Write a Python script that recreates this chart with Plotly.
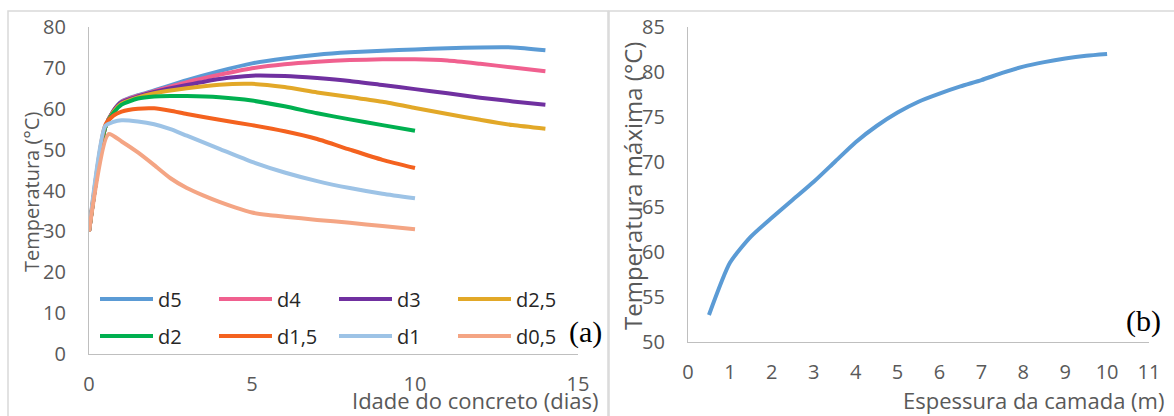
import plotly.graph_objects as go

# ---------------- data: panel (a) ----------------
names = ["d5", "d4", "d3", "d2,5", "d2", "d1,5", "d1", "d0,5"]
colors = ["#5B9BD5", "#F0608F", "#7030A0", "#E2A828", "#00B050", "#F4621F", "#9DC3E6", "#F4A584"]

t_long = [0, 0.5, 0.75, 1, 1.5, 2, 3, 4, 5, 6, 7, 8, 9, 10, 11, 12, 13, 14]
t_short = [0, 0.5, 0.75, 1, 1.5, 2, 2.5, 3, 4, 5, 6, 7, 8, 9, 10]
t_d05 = [0, 0.6, 1, 1.5, 2, 2.5, 3, 3.5, 4, 4.5, 5, 5.5, 6, 7, 8, 9, 10]

d5 = [30, 55.5, 59.5, 61.8, 63.3, 64.5, 67.0, 69.2, 71.1, 72.3, 73.2, 73.8, 74.2, 74.5, 74.8, 75.0, 75.0, 74.3]
d4 = [30, 55.5, 59.5, 61.7, 63.2, 64.3, 66.5, 68.3, 69.9, 70.9, 71.5, 71.9, 72.1, 72.1, 71.8, 71.0, 70.1, 69.2]
d3 = [30, 55.5, 59.5, 61.6, 63.0, 64.1, 65.8, 67.3, 68.1, 68.0, 67.5, 66.8, 65.8, 64.8, 63.8, 62.7, 61.8, 61.0]
d25 = [30, 55.5, 59.3, 61.3, 62.8, 63.8, 65.0, 65.9, 66.1, 65.3, 64.0, 62.9, 61.7, 60.2, 58.7, 57.3, 56.0, 55.1]
d2 = [30, 55.5, 59.0, 61.0, 62.5, 63.0, 63.1, 63.1, 62.8, 62.0, 60.6, 58.9, 57.4, 56.0, 54.6]
d15 = [30, 56.0, 58.3, 59.3, 60.0, 60.1, 59.5, 58.7, 57.3, 56.0, 54.5, 52.6, 50.0, 47.5, 45.5]
d1 = [30, 55.8, 56.8, 57.2, 56.9, 56.2, 55.0, 53.4, 50.2, 47.0, 44.4, 42.3, 40.6, 39.2, 38.1]
d05 = [30, 53.8, 52.0, 49.3, 46.2, 43.0, 40.6, 38.8, 37.2, 35.8, 34.6, 34.0, 33.6, 32.8, 32.1, 31.3, 30.5]

series_t = [t_long, t_long, t_long, t_long, t_short, t_short, t_short, t_d05]
series_v = [d5, d4, d3, d25, d2, d15, d1, d05]

# ---------------- data: panel (b) ----------------
espessura = [0.5, 1, 1.5, 2, 2.5, 3, 3.5, 4, 4.5, 5, 5.5, 6, 6.5, 7, 7.5, 8, 8.5, 9, 9.5, 10]
temp_max = [53.0, 58.8, 61.7, 63.8, 65.8, 67.8, 70.0, 72.2, 74.0, 75.5, 76.7, 77.6, 78.4, 79.1, 79.9, 80.6, 81.1, 81.5, 81.8, 82.0]

xticks_a = [0, 5, 10, 15]
yticks_a = [0, 10, 20, 30, 40, 50, 60, 70, 80]
xticks_b = list(range(0, 12))
yticks_b = [50, 55, 60, 65, 70, 75, 80, 85]

W, H = 1174, 416
def px(x):
    return x / W
def py(y):
    return 1 - y / H

FONT = "Open Sans"
GRAY = "#595959"
AXC = "#BFBFBF"

fig = go.Figure()
for nm, c, tt, vv in zip(names, colors, series_t, series_v):
    fig.add_trace(go.Scatter(x=tt, y=vv, name=nm, mode="lines",
                             line=dict(color=c, width=4, shape="spline", smoothing=0.6),
                             xaxis="x", yaxis="y", showlegend=False))
fig.add_trace(go.Scatter(x=espessura, y=temp_max, mode="lines",
                         line=dict(color="#5B9BD5", width=4, shape="spline", smoothing=0.6),
                         xaxis="x2", yaxis="y2", showlegend=False))

ax_common = dict(showgrid=False, zeroline=False, showline=True, linecolor=AXC, linewidth=1.2,
                 ticks="", automargin=False,
                 tickfont=dict(family=FONT, size=20, color=GRAY), fixedrange=True)

fig.update_layout(
    width=W, height=H, margin=dict(l=0, r=0, t=0, b=0, autoexpand=False),
    paper_bgcolor="white", plot_bgcolor="white",
    showlegend=False,
    xaxis=dict(domain=[px(89), px(578)], range=[0, 15], tickvals=xticks_a,
               anchor="y", ticklabelstandoff=12, **ax_common),
    yaxis=dict(domain=[py(354), py(27)], range=[0, 80], tickvals=yticks_a,
               anchor="x", ticklabelstandoff=18, **ax_common),
    xaxis2=dict(domain=[px(688), px(1149)], range=[0, 11], tickvals=xticks_b,
                anchor="y2", ticklabelstandoff=12, **ax_common),
    yaxis2=dict(domain=[py(342), py(27)], range=[50, 85], tickvals=yticks_b,
                anchor="x2", ticklabelstandoff=18, **ax_common),
)

shapes = []
annotations = []
# panel borders
shapes.append(dict(type="rect", xref="paper", yref="paper", x0=px(8), x1=px(608), y0=py(440), y1=py(11),
                   line=dict(color="#D9D9D9", width=1.5), layer="below"))
shapes.append(dict(type="rect", xref="paper", yref="paper", x0=px(609), x1=px(1200), y0=py(440), y1=py(11),
                   line=dict(color="#D9D9D9", width=1.5), layer="below"))

# custom legend (2 rows x 4 columns)
col_x = [100, 219, 339, 458]
row_y = [299, 336]
for i, (nm, c) in enumerate(zip(names, colors)):
    r, k = divmod(i, 4)
    x0 = col_x[k]
    y0 = row_y[r]
    shapes.append(dict(type="line", xref="paper", yref="paper", x0=px(x0), x1=px(x0 + 53),
                       y0=py(y0), y1=py(y0), line=dict(color=c, width=4)))
    annotations.append(dict(text=nm, xref="paper", yref="paper", x=px(x0 + 56), y=py(y0),
                            xanchor="left", yanchor="middle", showarrow=False,
                            font=dict(family=FONT, size=20, color="#262626")))

# axis titles
annotations += [
    dict(text="Idade do concreto (dias)", xref="paper", yref="paper", x=px(600), y=py(400),
         xanchor="right", yanchor="middle", showarrow=False, font=dict(family=FONT, size=22, color=GRAY)),
    dict(text="Temperatura (°C)", xref="paper", yref="paper", x=px(31), y=py(192), textangle=-90,
         xanchor="center", yanchor="middle", showarrow=False, font=dict(family=FONT, size=20, color=GRAY)),
    dict(text="Espessura da camada (m)", xref="paper", yref="paper", x=px(1166), y=py(400),
         xanchor="right", yanchor="middle", showarrow=False, font=dict(family=FONT, size=22, color=GRAY)),
    dict(text="Temperatura máxima (°C)", xref="paper", yref="paper", x=px(632), y=py(186), textangle=-90,
         xanchor="center", yanchor="middle", showarrow=False, font=dict(family=FONT, size=24, color=GRAY)),
    dict(text="(a)", xref="paper", yref="paper", x=px(585), y=py(332),
         xanchor="center", yanchor="middle", showarrow=False,
         font=dict(family="Liberation Serif", size=30, color="#000000")),
    dict(text="(b)", xref="paper", yref="paper", x=px(1143), y=py(321),
         xanchor="center", yanchor="middle", showarrow=False,
         font=dict(family="Liberation Serif", size=30, color="#000000")),
]

fig.update_layout(shapes=shapes, annotations=annotations)
fig.write_html("out.html")
